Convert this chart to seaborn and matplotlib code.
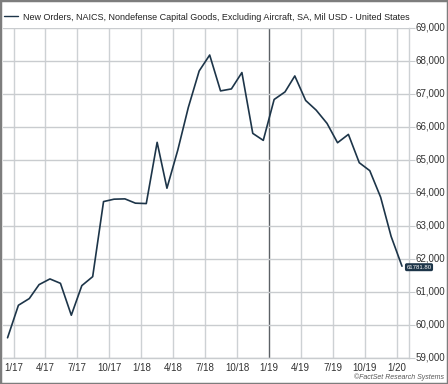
import numpy as np
import pandas as pd
import matplotlib
matplotlib.use("Agg")
import matplotlib.pyplot as plt
import matplotlib.dates as mdates
import matplotlib.ticker as mticker
from matplotlib.patches import Rectangle
from matplotlib.transforms import ScaledTranslation
import seaborn as sns

# monthly values, Dec 2016 .. Jan 2020 (Mil USD)
months = pd.date_range("2016-12-01", "2020-01-01", freq="MS") + pd.Timedelta(days=14)
orders = [59613, 60598, 60801, 61224, 61396, 61263, 60296, 61193, 61465, 63740,
          63813, 63822, 63692, 63680, 65535, 64145, 65302, 66592, 67698, 68181,
          67094, 67154, 67650, 65807, 65595, 66834, 67063, 67547, 66804, 66511,
          66109, 65523, 65776, 64918, 64677, 63873, 62683, 61781.8]
series_name = "New Orders, NAICS, Nondefense Capital Goods, Excluding Aircraft, SA, Mil USD - United States"
y_ticks = [59000, 60000, 61000, 62000, 63000, 64000, 65000, 66000, 67000, 68000, 69000]
x_ticks = pd.date_range("2017-01-01", "2020-01-01", freq="QS")
last_label = "61781.80"

df = pd.DataFrame({"date": months, "value": orders})

sns.set_style("white")
plt.rcParams["font.family"] = ["Liberation Sans", "DejaVu Sans"]

W, H = 448, 384
fig = plt.figure(figsize=(W / 100, H / 100), dpi=100)
ax = fig.add_axes([3 / W, 1 - 358 / H, (409 - 3) / W, (358 - 28) / H])

line_col = "#1d3549"
sns.lineplot(data=df, x="date", y="value", ax=ax, color=line_col, lw=1.2,
             label=series_name, legend=False)

ax.set_xlim(pd.Timestamp("2016-12-02"), pd.Timestamp("2020-02-04"))
ax.set_ylim(59000, 69000)
ax.set_xlabel("")
ax.set_ylabel("")

# grid
ax.set_yticks(y_ticks)
ax.set_xticks(x_ticks)
ax.xaxis.set_major_formatter(mdates.DateFormatter("%-m/%y"))
ax.yaxis.set_major_formatter(mticker.StrMethodFormatter("{x:,.0f}"))
ax.grid(True, axis="y", color="#c9cccf", lw=1.0)
ax.grid(True, axis="x", color="#cdd1d4", lw=1.0)
for g, d in zip(ax.get_xgridlines(), x_ticks):
    if d == pd.Timestamp("2019-01-01"):
        g.set_color("#5c6166")
ax.set_axisbelow(True)

ax.yaxis.tick_right()
ax.tick_params(axis="y", length=4, color="#c9cccf", pad=1, labelsize=7, labelcolor="#333333")
ax.tick_params(axis="x", length=0, pad=3.5, labelsize=7, labelcolor="#333333")
for lab in ax.get_yticklabels():
    lab.set_transform(lab.get_transform() + ScaledTranslation(0, 2 / 100, fig.dpi_scale_trans))

for s in ["left", "top"]:
    ax.spines[s].set_visible(False)
ax.spines["right"].set_color("#cdd1d4")
ax.spines["right"].set_linewidth(1.0)
ax.spines["bottom"].set_color("#c9cccf")
ax.spines["bottom"].set_linewidth(1.0)

# last value tag
ax.annotate(last_label, xy=(1.0, orders[-1]), xycoords=("axes fraction", "data"),
            xytext=(10, -1), textcoords="offset pixels", ha="center", va="center",
            fontsize=4.3, color="white",
            bbox=dict(boxstyle="round,pad=0.25,rounding_size=0.3", fc="#1d3549", ec="none"))

# legend
handles, labels = ax.get_legend_handles_labels()
leg = fig.legend(handles, labels, loc="center left", bbox_to_anchor=(4 / W, 1 - 17 / H),
                 frameon=False, fontsize=6.45, handlelength=1.6, handletextpad=0.5,
                 borderpad=0, borderaxespad=0, labelcolor="#222222")
for h in leg.get_lines():
    h.set_linewidth(1.0)

fig.text(1 - 4 / W, 3 / H, "\u00a9FactSet Research Systems", ha="right", va="bottom",
         fontsize=5, style="italic", color="#555555")

fig.patches.append(Rectangle((0, 0), 1, 1, transform=fig.transFigure, fill=False,
                             edgecolor="#7d7d7d", lw=2.5))

fig.savefig("out.png", dpi=100)
